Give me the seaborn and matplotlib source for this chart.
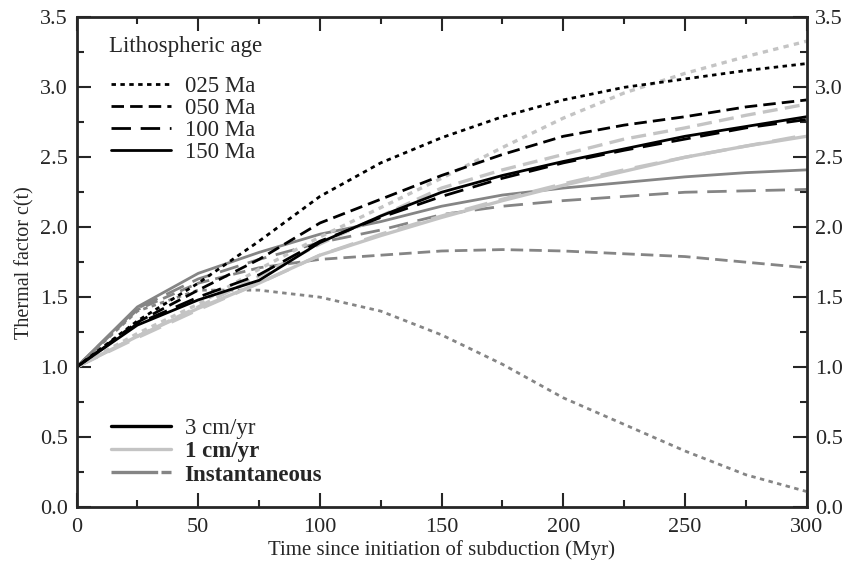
import numpy as np
import pandas as pd
import seaborn as sns
import matplotlib
matplotlib.use("Agg")
import matplotlib.pyplot as plt
from matplotlib.lines import Line2D
from matplotlib.ticker import MultipleLocator, FormatStrFormatter

# time since initiation of subduction (Myr)
t = [0, 25, 50, 75, 100, 125, 150, 175, 200, 225, 250, 275, 300]

# thermal factor c(t), 3 cm/yr
c3_025 = [1.0, 1.33, 1.60, 1.90, 2.22, 2.46, 2.64, 2.79, 2.91, 3.00, 3.06, 3.12, 3.17]
c3_050 = [1.0, 1.32, 1.55, 1.77, 2.03, 2.20, 2.37, 2.52, 2.65, 2.73, 2.79, 2.86, 2.91]
c3_100 = [1.0, 1.31, 1.50, 1.66, 1.90, 2.07, 2.22, 2.35, 2.46, 2.55, 2.63, 2.71, 2.77]
c3_150 = [1.0, 1.30, 1.48, 1.62, 1.89, 2.08, 2.25, 2.37, 2.47, 2.56, 2.65, 2.72, 2.79]

# 1 cm/yr
c1_025 = [1.0, 1.24, 1.45, 1.70, 1.93, 2.14, 2.35, 2.57, 2.78, 2.96, 3.10, 3.22, 3.33]
c1_050 = [1.0, 1.22, 1.43, 1.65, 1.88, 2.08, 2.28, 2.41, 2.52, 2.63, 2.71, 2.80, 2.88]
c1_100 = [1.0, 1.21, 1.41, 1.60, 1.80, 1.95, 2.08, 2.20, 2.31, 2.41, 2.50, 2.58, 2.66]
c1_150 = [1.0, 1.22, 1.42, 1.60, 1.80, 1.94, 2.07, 2.19, 2.30, 2.40, 2.50, 2.58, 2.65]

# instantaneous
ci_025 = [1.0, 1.40, 1.55, 1.55, 1.50, 1.40, 1.23, 1.02, 0.78, 0.59, 0.40, 0.23, 0.11]
ci_050 = [1.0, 1.41, 1.60, 1.71, 1.77, 1.80, 1.83, 1.84, 1.83, 1.81, 1.79, 1.75, 1.71]
ci_100 = [1.0, 1.42, 1.63, 1.77, 1.89, 1.98, 2.09, 2.15, 2.19, 2.22, 2.25, 2.26, 2.27]
ci_150 = [1.0, 1.43, 1.67, 1.82, 1.95, 2.04, 2.15, 2.23, 2.28, 2.32, 2.36, 2.39, 2.41]

ages = ["025 Ma", "050 Ma", "100 Ma", "150 Ma"]
speeds = ["3 cm/yr", "1 cm/yr", "Instantaneous"]

curves = {
    "3 cm/yr": [c3_025, c3_050, c3_100, c3_150],
    "1 cm/yr": [c1_025, c1_050, c1_100, c1_150],
    "Instantaneous": [ci_025, ci_050, ci_100, ci_150],
}

colors = {"3 cm/yr": "#000000", "1 cm/yr": "#c4c4c4", "Instantaneous": "#858585"}
widths = {"3 cm/yr": 2.0, "1 cm/yr": 2.4, "Instantaneous": 2.0}
styles = {"025 Ma": (0, (1.6, 1.6)), "050 Ma": (0, (4.5, 2.2)),
          "100 Ma": (0, (7, 3.5)), "150 Ma": "-"}

sns.set_style("ticks")
plt.rcParams["font.family"] = ["Liberation Serif", "DejaVu Serif"]

fig = plt.figure(figsize=(8.52, 5.62), dpi=100)
ax = fig.add_axes([0.0898, 0.098, 0.857, 0.871])

# instantaneous first, then 1 cm/yr, then 3 cm/yr on top
for sp in ["Instantaneous", "1 cm/yr", "3 cm/yr"]:
    for age, vals in zip(ages, curves[sp]):
        df = pd.DataFrame({"t": t, "c": vals})
        sns.lineplot(data=df, x="t", y="c", ax=ax, color=colors[sp],
                     linewidth=widths[sp], linestyle=styles[age])

ax.set_xlim(0, 300)
ax.set_ylim(0, 3.5)
ax.xaxis.set_major_locator(MultipleLocator(50))
ax.xaxis.set_minor_locator(MultipleLocator(25))
ax.yaxis.set_major_locator(MultipleLocator(0.5))
ax.yaxis.set_minor_locator(MultipleLocator(0.25))
ax.yaxis.set_major_formatter(FormatStrFormatter("%.1f"))
ax.tick_params(which="both", direction="in", top=True, right=True,
               labelright=True, width=1.5, labelsize=16)
ax.tick_params(axis="x", pad=8)
ax.tick_params(axis="y", pad=6)
ax.tick_params(which="major", length=10)
ax.tick_params(which="minor", length=5)
for s in ax.spines.values():
    s.set_linewidth(2)

ax.set_xlabel("Time since initiation of subduction (Myr)", fontsize=15, labelpad=2)
ax.set_ylabel("Thermal factor c(t)", fontsize=14.5, labelpad=4)

# legend: lithospheric age (title drawn separately for the wider gap)
ax.text(0.045, 0.94, "Lithospheric age", transform=ax.transAxes,
        fontsize=16.5, ha="left", va="center")
age_handles = [Line2D([], [], color="black", linewidth=2, linestyle=styles[a])
               for a in ages]
leg1 = ax.legend(age_handles, ages, loc="upper left",
                 bbox_to_anchor=(0.035, 0.90), frameon=False, fontsize=16.5,
                 handlelength=2.6, labelspacing=0.05, handletextpad=0.6,
                 borderaxespad=0)
ax.add_artist(leg1)

# legend: convergence speed
sp_handles = [Line2D([], [], color=colors["3 cm/yr"], linewidth=2.4),
              Line2D([], [], color=colors["1 cm/yr"], linewidth=2.4),
              Line2D([], [], color=colors["Instantaneous"], linewidth=2.4,
                     linestyle=(0, (14, 1)))]
leg2 = ax.legend(sp_handles, speeds, loc="lower left",
                 bbox_to_anchor=(0.035, 0.025), frameon=False, fontsize=16.5,
                 handlelength=2.6, labelspacing=0.1, handletextpad=0.6,
                 borderaxespad=0)
for txt in leg2.get_texts()[1:]:
    txt.set_fontweight("bold")

fig.savefig("out.png", dpi=100)
